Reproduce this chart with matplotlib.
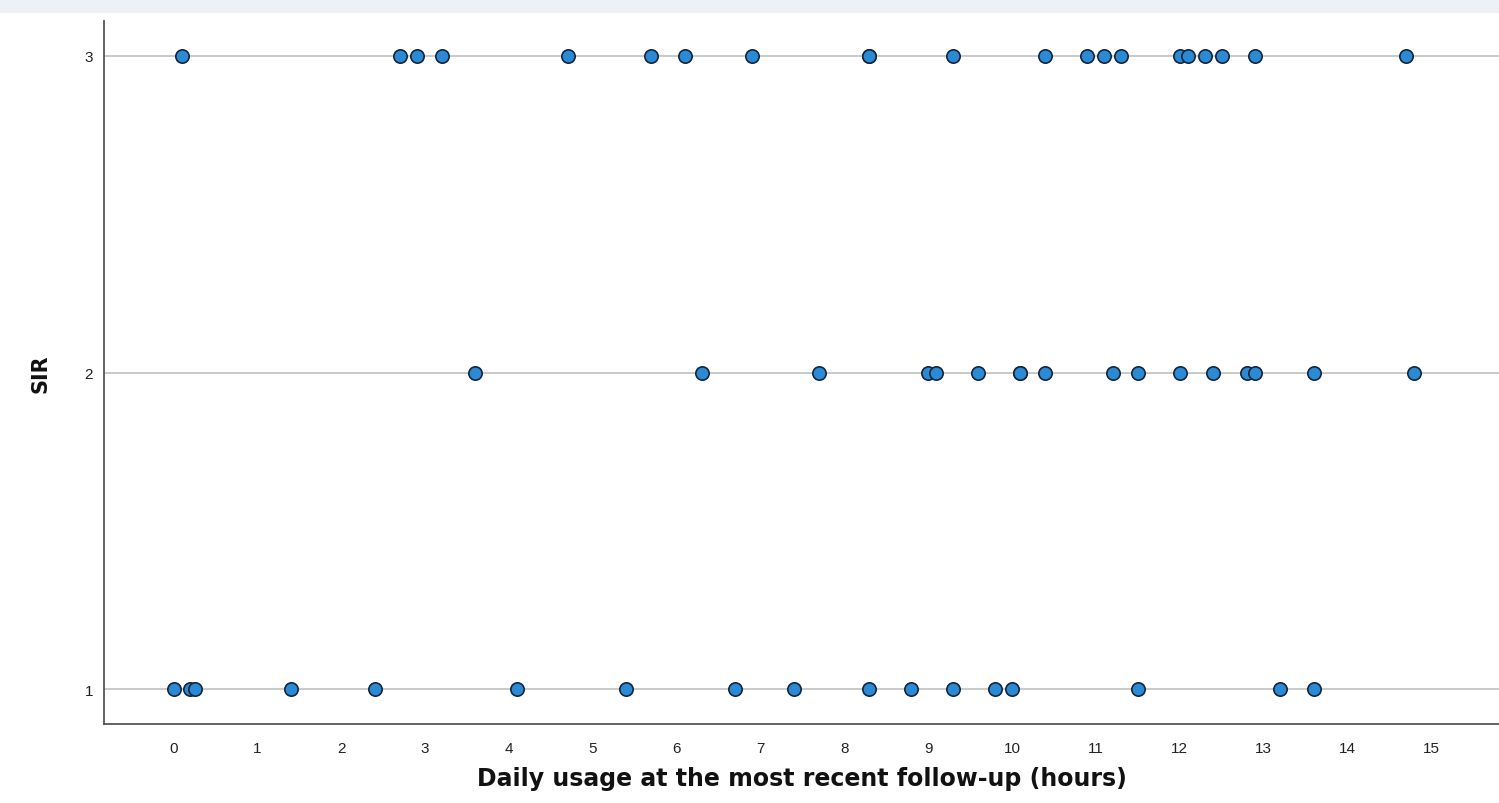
import matplotlib
matplotlib.use("Agg")
import matplotlib.pyplot as plt
from matplotlib.patches import Rectangle

# Data (SIR level vs daily usage hours)
usage_sir3 = [0.1, 2.7, 2.9, 3.2, 4.7, 5.7, 6.1, 6.9, 8.3, 8.3, 9.3, 10.4, 10.9,
              11.1, 11.3, 12.0, 12.1, 12.3, 12.5, 12.9, 14.7]
usage_sir2 = [3.6, 6.3, 7.7, 9.0, 9.1, 9.6, 10.1, 10.1, 10.4, 11.2, 11.5, 12.0,
              12.4, 12.8, 12.9, 13.6, 14.8]
usage_sir1 = [0.0, 0.2, 0.25, 1.4, 2.4, 4.1, 5.4, 6.7, 7.4, 8.3, 8.8, 9.3, 9.8,
              10.0, 11.5, 13.2, 13.6]
sir_levels = [3, 2, 1]
x_ticks = list(range(0, 16))
y_ticks = [1, 2, 3]

W, H = 1499, 804
fig = plt.figure(figsize=(W / 100, H / 100), dpi=100)
fig.patch.set_facecolor("white")

# top band (cut-off header)
fig.patches.append(Rectangle((0, 1 - 13.5 / H), 1, 13.5 / H, transform=fig.transFigure,
                             facecolor="#edf1f5", edgecolor="none", zorder=0))

ax = fig.add_axes([104 / W, 1 - 725 / H, 1 - 104 / W, (725 - 22) / H])

for level, xs in zip(sir_levels, [usage_sir3, usage_sir2, usage_sir1]):
    ax.scatter(xs, [level] * len(xs), s=92, facecolor="#2b8ad6",
               edgecolor="#15263a", linewidth=1.2, zorder=3)

ax.set_xlim(-0.83, 15.81)
ax.set_ylim(0.89, 3.11)
ax.set_xticks(x_ticks)
ax.set_yticks(y_ticks)
ax.set_xticklabels([str(t) for t in x_ticks])
ax.set_yticklabels([str(t) for t in y_ticks])

ax.yaxis.grid(True, color="#c9c9c9", linewidth=1.4, zorder=1)
ax.xaxis.grid(False)
ax.set_axisbelow(True)

for side in ["top", "right"]:
    ax.spines[side].set_visible(False)
for side in ["left", "bottom"]:
    ax.spines[side].set_color("#555555")
    ax.spines[side].set_linewidth(1.3)

ax.tick_params(axis="both", length=0, labelsize=11, labelcolor="#222222")
ax.tick_params(axis="x", pad=12)
ax.tick_params(axis="y", pad=8)
for lbl in ax.get_xticklabels() + ax.get_yticklabels():
    lbl.set_fontfamily("Liberation Sans")

ax.set_xlabel("Daily usage at the most recent follow-up (hours)", fontsize=17,
              fontweight="bold", fontfamily="DejaVu Sans", color="#111111", va="center")
ax.xaxis.set_label_coords(0.5, (725 - 779) / 703)
ax.set_ylabel("SIR", fontsize=15, fontweight="bold", fontfamily="DejaVu Sans",
              color="#111111", va="center")
ax.yaxis.set_label_coords((40 - 104) / (W - 104), 0.5)

fig.savefig("out.png", dpi=100)
